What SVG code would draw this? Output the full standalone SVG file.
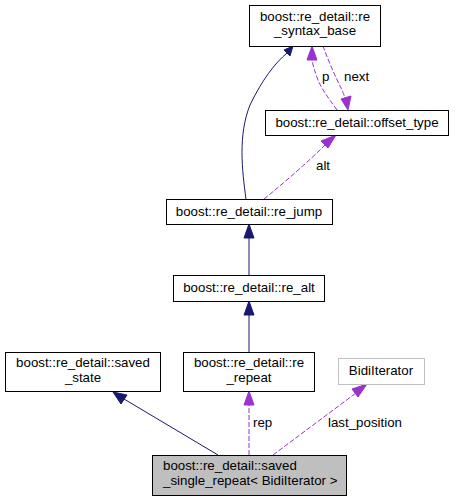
<svg xmlns="http://www.w3.org/2000/svg" width="455" height="501" viewBox="0 0 455 501">
<style>
text{font-family:"Liberation Sans",Arial,sans-serif;font-size:13.3px;fill:#000}
.n{fill:#fff;stroke:#000;stroke-width:1}
.c{text-anchor:middle}
.inh{fill:none;stroke:#191970;stroke-width:1}
.use{fill:none;stroke:#9a32cd;stroke-width:1;stroke-dasharray:5,2}
.ah{fill:#191970;stroke:#191970}
.ap{fill:#9a32cd;stroke:#9a32cd}
</style>
<rect width="455" height="501" fill="#fff"/>
<g id="edges">
<path class="inh" d="M246,199C242,170 238,135 250,105C262,80 275,63 287,53"/>
<polygon class="ah" points="284,50 293,46 290,56"/>
<path class="use" d="M337,110C330,100 322,90 318,80C315,72 313,66 312,60"/>
<polygon class="ap" points="307,60 312,46 317,60"/>
<text x="322" y="81">p</text>
<path class="use" d="M323,46C328,60 335,76 342,90C344,95 345,98 346,100"/>
<polygon class="ap" points="341,99 348,110 351,96"/>
<text x="344" y="81">next</text>
<path class="use" d="M264,199C285,182 308,162 325,145"/>
<polygon class="ap" points="321,141 336,135 328,148"/>
<text x="316" y="170">alt</text>
<path class="inh" d="M249,275V236"/>
<polygon class="ah" points="244,238 249,224 254,238"/>
<path class="inh" d="M249,352V313"/>
<polygon class="ah" points="244,315 249,301 254,315"/>
<path class="inh" d="M218,455L124,399"/>
<polygon class="ah" points="121,404 113,392 127,395"/>
<path class="use" d="M249,455V405"/>
<polygon class="ap" points="244,405 249,391 254,405"/>
<text x="253" y="427">rep</text>
<path class="use" d="M273,455L356,393"/>
<polygon class="ap" points="352,389 367,384 358,397"/>
<text x="328" y="427">last_position</text>
</g>
<g id="re_syntax_base">
<rect class="n" x="249.5" y="5.5" width="131" height="41"/>
<text class="c" x="315" y="21">boost::re_detail::re</text>
<text class="c" x="315" y="35">_syntax_base</text>
</g>
<g id="offset_type">
<rect class="n" x="265.5" y="110.5" width="183" height="25"/>
<text class="c" x="357" y="127">boost::re_detail::offset_type</text>
</g>
<g id="re_jump">
<rect class="n" x="166.5" y="199.5" width="166" height="25"/>
<text class="c" x="249" y="216">boost::re_detail::re_jump</text>
</g>
<g id="re_alt">
<rect class="n" x="173.5" y="275.5" width="151" height="26"/>
<text class="c" x="249" y="292">boost::re_detail::re_alt</text>
</g>
<g id="saved_state">
<rect class="n" x="5.5" y="352.5" width="155" height="39"/>
<text class="c" x="83" y="367">boost::re_detail::saved</text>
<text class="c" x="83" y="382">_state</text>
</g>
<g id="re_repeat">
<rect class="n" x="183.5" y="352.5" width="131" height="39"/>
<text class="c" x="249" y="367">boost::re_detail::re</text>
<text class="c" x="249" y="382">_repeat</text>
</g>
<g id="BidiIterator">
<rect x="338.5" y="358.5" width="86" height="26" fill="#fff" stroke="#bfbfbf"/>
<text class="c" x="381" y="375">BidiIterator</text>
</g>
<g id="saved_single_repeat">
<rect x="152.5" y="455.5" width="194" height="40" fill="#bfbfbf" stroke="#000"/>
<text x="163" y="470">boost::re_detail::saved</text>
<text x="163" y="485">_single_repeat&lt; BidiIterator &gt;</text>
</g>
</svg>
